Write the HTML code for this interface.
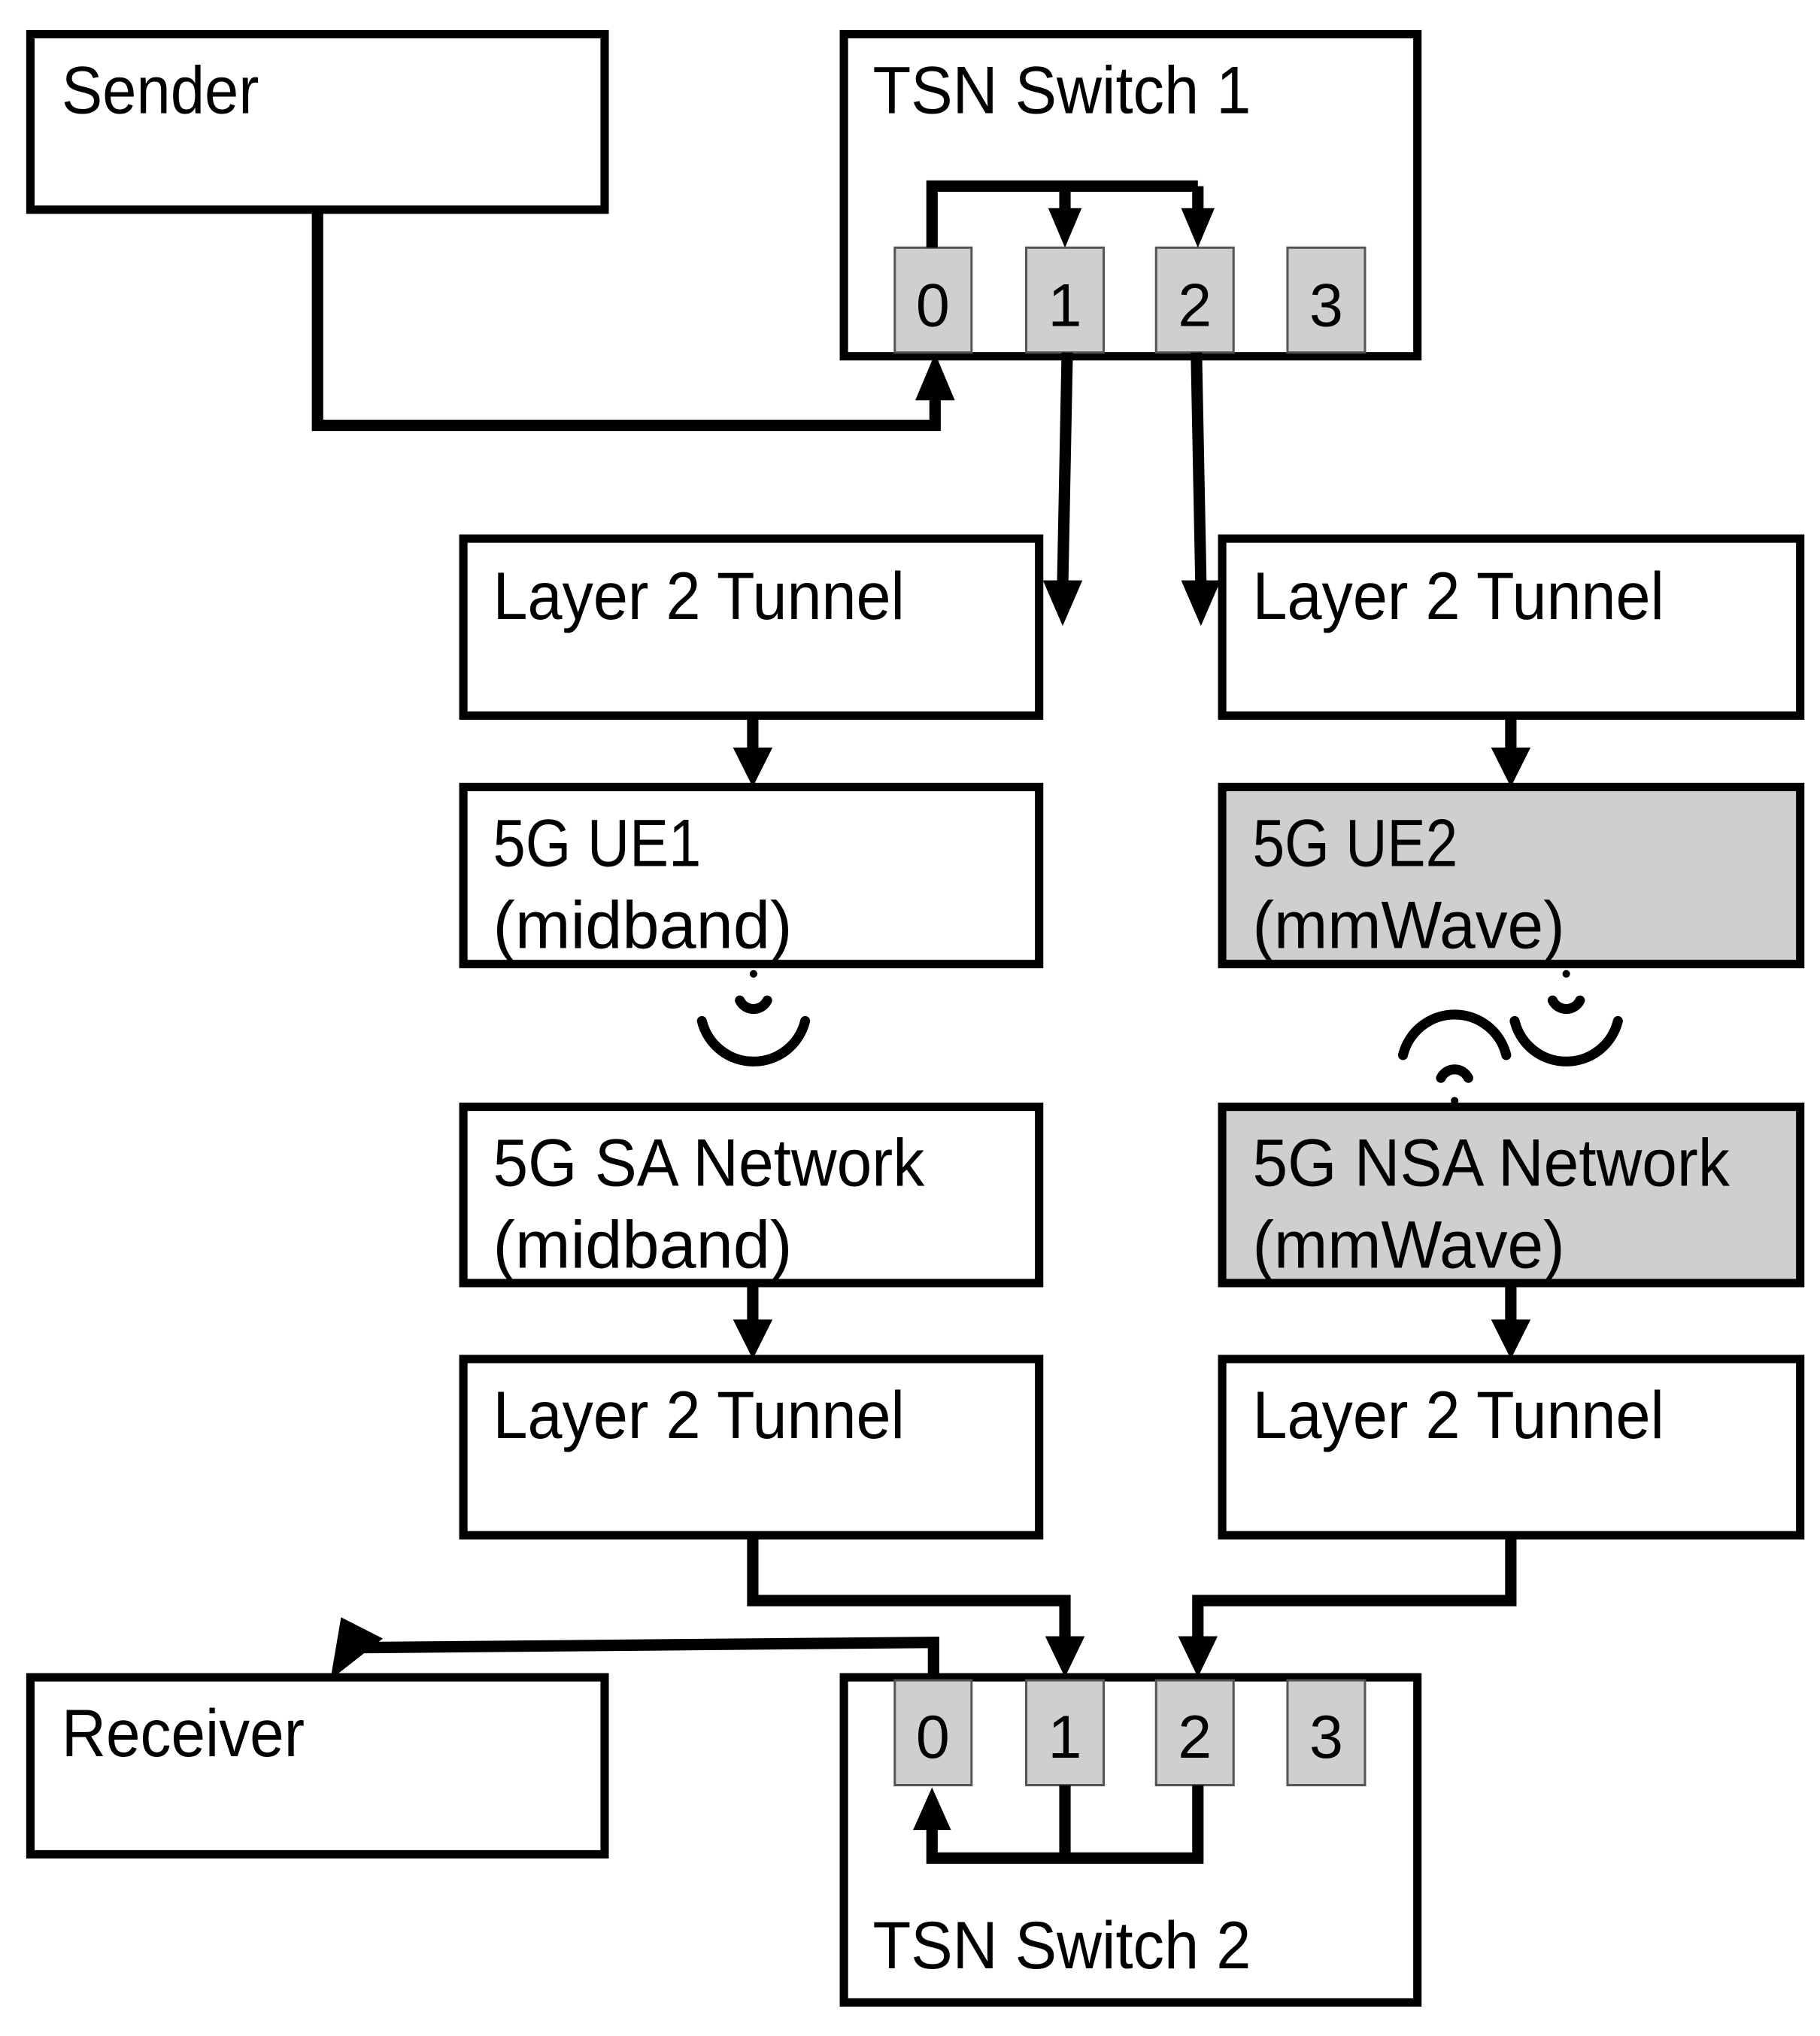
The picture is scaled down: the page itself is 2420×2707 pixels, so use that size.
<!DOCTYPE html>
<html><head><meta charset="utf-8"><style>html,body{margin:0;padding:0;background:#fff}svg{display:block}</style></head>
<body>
<svg width="2420" height="2707" viewBox="0 0 2420 2707" xmlns="http://www.w3.org/2000/svg" font-family="Liberation Sans, sans-serif" font-size="80">
<g transform="translate(-1,-1) scale(1.01)">
<g fill="#fff" stroke="#000" stroke-width="11">
<rect x="41" y="46" width="756" height="231"/>
<rect x="1112" y="46" width="755" height="424"/>
<rect x="611" y="710" width="758" height="233"/>
<rect x="1610" y="710" width="761" height="233"/>
<rect x="611" y="1037" width="758" height="233"/>
<rect x="1610" y="1037" width="761" height="233" fill="#d0cfcf"/>
<rect x="611" y="1458" width="758" height="232"/>
<rect x="1610" y="1458" width="761" height="232" fill="#d0cfcf"/>
<rect x="611" y="1790" width="758" height="232"/>
<rect x="1610" y="1790" width="761" height="232"/>
<rect x="41" y="2209" width="756" height="233"/>
<rect x="1112" y="2209" width="755" height="428"/>
</g>
<g fill="#d0cfcf" stroke="#555" stroke-width="3">
<rect x="1179" y="327" width="101" height="138"/><rect x="1352" y="327" width="102" height="138"/><rect x="1523" y="327" width="102" height="138"/><rect x="1696" y="327" width="102" height="138"/>
<rect x="1179" y="2213" width="101" height="138"/><rect x="1352" y="2213" width="102" height="138"/><rect x="1523" y="2213" width="102" height="138"/><rect x="1696" y="2213" width="102" height="138"/>
</g>
<g fill="none" stroke="#000" stroke-width="15" stroke-linejoin="miter">
<polyline points="419,277 419,561 1232,561 1232,520"/>
<polyline points="1228,327 1228,246 1578,246"/>
<line x1="1403" y1="246" x2="1403" y2="280"/><line x1="1578" y1="246" x2="1578" y2="280"/>
<line x1="1406" y1="465" x2="1400" y2="770"/><line x1="1576" y1="465" x2="1582" y2="770"/>
<line x1="992" y1="943" x2="992" y2="990"/><line x1="1990" y1="943" x2="1990" y2="990"/>
<line x1="992" y1="1690" x2="992" y2="1740"/><line x1="1990" y1="1690" x2="1990" y2="1740"/>
<polyline points="992,2022 992,2108 1403,2108 1403,2160"/>
<polyline points="1990,2022 1990,2108 1578,2108 1578,2160"/>
<polyline points="1230,2209 1230,2163 470,2170"/>
<line x1="1403" y1="2351" x2="1403" y2="2447"/>
<polyline points="1578,2351 1578,2447 1228,2447 1228,2400"/>
</g>
<g fill="#000">
<polygon points="1206,528 1258,528 1232,466"/>
<polygon points="1381,275 1425,275 1403,327"/>
<polygon points="1556,275 1600,275 1578,327"/>
<polygon points="1374,765 1426,765 1400,825"/>
<polygon points="1556,765 1608,765 1582,825"/>
<polygon points="966,985 1018,985 992,1037"/>
<polygon points="1964,985 2016,985 1990,1037"/>
<polygon points="966,1738 1018,1738 992,1790"/>
<polygon points="1964,1738 2016,1738 1990,1790"/>
<polygon points="1377,2155 1429,2155 1403,2209"/>
<polygon points="1552,2155 1604,2155 1578,2209"/>
<polygon points="1203,2410 1253,2410 1228,2354"/>
<polygon points="450,2130 505,2158 436,2212"/>
</g>
<g fill="none" stroke="#000" stroke-width="13" stroke-linecap="round">
<path d="M975,1318 A20,20 0 0 0 1011,1318"/>
<path d="M925,1345 A70,70 0 0 0 1061,1345"/>
<path d="M2045,1318 A20,20 0 0 0 2081,1318"/>
<path d="M1995,1345 A70,70 0 0 0 2131,1345"/>
<path d="M1898,1420 A20,20 0 0 1 1934,1420"/>
<path d="M1848,1390 A70,70 0 0 1 1984,1390"/>
</g>
<g fill="#000">
<circle cx="993" cy="1283" r="5"/><circle cx="2063" cy="1283" r="5"/><circle cx="1916" cy="1450" r="5"/>
</g>
<g fill="#000" font-size="88">
<text x="82" y="150" textLength="260" lengthAdjust="spacingAndGlyphs">Sender</text>
<text x="1150" y="150" textLength="498" lengthAdjust="spacingAndGlyphs">TSN Switch  1</text>
<text x="650" y="816" textLength="542" lengthAdjust="spacingAndGlyphs">Layer 2 Tunnel</text>
<text x="1650" y="816" textLength="542" lengthAdjust="spacingAndGlyphs">Layer 2 Tunnel</text>
<text x="650" y="1141" textLength="274" lengthAdjust="spacingAndGlyphs">5G UE1</text>
<text x="650" y="1249" textLength="394" lengthAdjust="spacingAndGlyphs">(midband)</text>
<text x="1650" y="1141" textLength="270" lengthAdjust="spacingAndGlyphs">5G UE2</text>
<text x="1650" y="1249" textLength="411" lengthAdjust="spacingAndGlyphs">(mmWave)</text>
<text x="650" y="1562" textLength="568" lengthAdjust="spacingAndGlyphs">5G SA Network</text>
<text x="650" y="1670" textLength="394" lengthAdjust="spacingAndGlyphs">(midband)</text>
<text x="1650" y="1562" textLength="628" lengthAdjust="spacingAndGlyphs">5G NSA Network</text>
<text x="1650" y="1670" textLength="411" lengthAdjust="spacingAndGlyphs">(mmWave)</text>
<text x="650" y="1894" textLength="542" lengthAdjust="spacingAndGlyphs">Layer 2 Tunnel</text>
<text x="1650" y="1894" textLength="542" lengthAdjust="spacingAndGlyphs">Layer 2 Tunnel</text>
<text x="82" y="2313" textLength="320" lengthAdjust="spacingAndGlyphs">Receiver</text>
<text x="1150" y="2592" textLength="498" lengthAdjust="spacingAndGlyphs">TSN Switch  2</text>
</g>
<g fill="#000" font-size="80" text-anchor="middle">
<text x="1229" y="430">0</text><text x="1403" y="430">1</text><text x="1574" y="430">2</text><text x="1747" y="430">3</text>
<text x="1229" y="2315">0</text><text x="1403" y="2315">1</text><text x="1574" y="2315">2</text><text x="1747" y="2315">3</text>
</g>
</g>
</svg>
</body></html>
